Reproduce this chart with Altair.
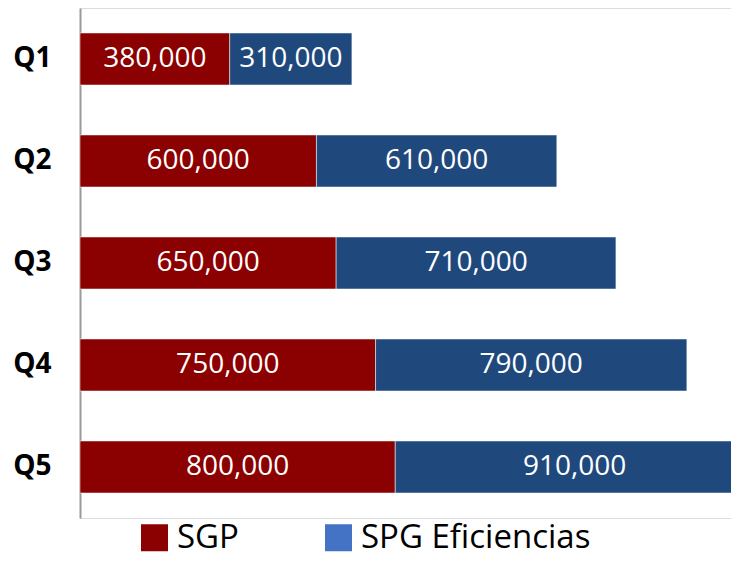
import altair as alt
import pandas as pd

quarters = ["Q1", "Q2", "Q3", "Q4", "Q5"]
sgp = [380000, 600000, 650000, 750000, 800000]
spg = [310000, 610000, 710000, 790000, 910000]
series = ["SGP", "SPG Eficiencias"]
bar_colors = ["#8B0000", "#1F497D"]
legend_colors = ["#8B0000", "#4472C4"]

rows = []
for i, q in enumerate(quarters):
    rows.append({"q": q, "series": series[0], "value": sgp[i], "ord": 0})
    rows.append({"q": q, "series": series[1], "value": spg[i], "ord": 1})
df = pd.DataFrame(rows)

xscale = alt.Scale(domain=[0, 1652000], nice=False, zero=True)
y = alt.Y(
    "q:N", sort=quarters, title=None,
    scale=alt.Scale(paddingInner=0.49, paddingOuter=0.245),
    axis=alt.Axis(labelFont="Open Sans", labelFontWeight="bold", labelFontSize=28,
                  labelColor="black", labelPadding=29, ticks=False,
                  domainColor="#9a9a9a", domainWidth=2, grid=False),
)
x = alt.X("value:Q", stack="zero", axis=None, scale=xscale)

base = alt.Chart(df)

legend_layer = base.mark_bar(opacity=0, clip=True).encode(
    x=x, y=y,
    fill=alt.Fill("series:N", scale=alt.Scale(domain=series, range=legend_colors),
                  legend=alt.Legend(orient="none", legendX=58, legendY=513,
                                    direction="horizontal", title=None,
                                    symbolType="square", symbolSize=729,
                                    symbolStrokeWidth=0, symbolOpacity=1,
                                    labelFont="Open Sans", labelFontSize=33,
                                    labelColor="black", labelOffset=6,
                                    columnPadding=83, labelLimit=400, padding=0)),
    order=alt.Order("ord:Q"),
)

bars = base.mark_bar(clip=True, stroke="white", strokeWidth=1, strokeOpacity=0.5).encode(
    x=x, y=y,
    color=alt.Color("series:N", scale=alt.Scale(domain=series, range=bar_colors), legend=None),
    order=alt.Order("ord:Q"),
)

labels = base.transform_stack(
    stack="value", groupby=["q"], as_=["x0", "x1"],
    sort=[alt.SortField("ord", order="ascending")],
).transform_calculate(
    mid="(datum.x0 + datum.x1) / 2",
    lbl="format(datum.value, ',')",
).mark_text(color="white", font="Open Sans", fontSize=28).encode(
    x=alt.X("mid:Q", axis=None, scale=xscale),
    y=y,
    text="lbl:N",
)

chart = alt.layer(legend_layer, bars, labels).properties(
    width=651, height=510,
    autosize=alt.AutoSizeParams(type="none"),
    padding={"left": 72, "top": 0, "right": 0, "bottom": 40},
).configure_view(stroke=None).configure(background="white")

chart.save("out.html", embed_options={"renderer": "svg", "actions": False})
